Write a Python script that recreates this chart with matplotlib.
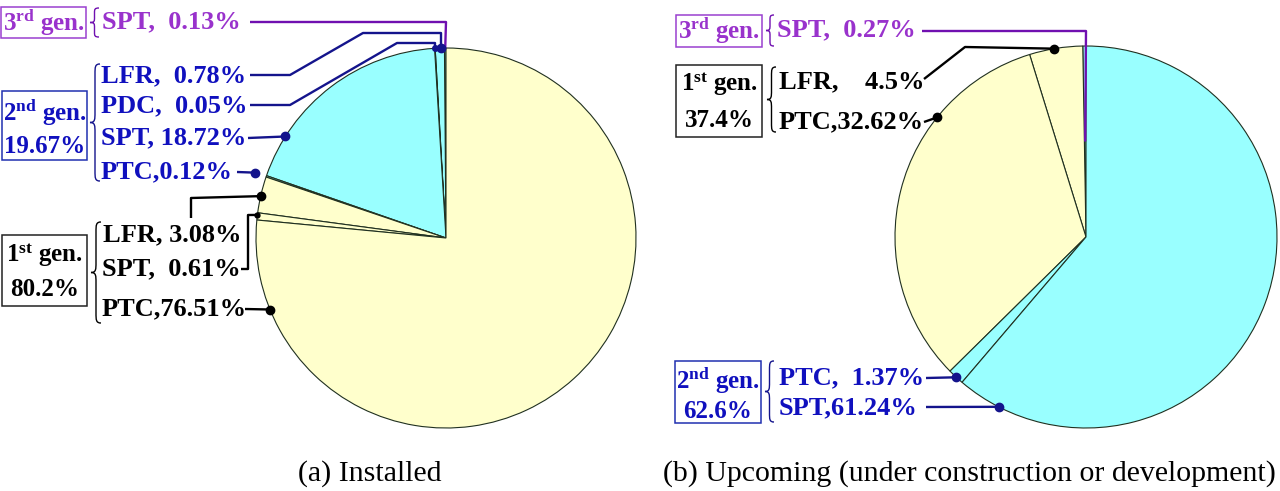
import matplotlib
matplotlib.use('Agg')
import matplotlib.pyplot as plt
import numpy as np
from matplotlib.path import Path
from matplotlib.patches import PathPatch, Rectangle

plt.rcParams['font.family'] = ['Liberation Serif', 'DejaVu Serif']
plt.rcParams['mathtext.fontset'] = 'custom'
plt.rcParams['mathtext.rm'] = 'Liberation Serif'
plt.rcParams['mathtext.bf'] = 'Liberation Serif:bold'
plt.rcParams['mathtext.it'] = 'Liberation Serif:italic'

# ---------------- data ----------------
installed_names = ['SPT', 'LFR', 'PDC', 'SPT', 'PTC', 'LFR', 'SPT', 'PTC']
installed_values = [0.13, 0.78, 0.05, 18.72, 0.12, 3.08, 0.61, 76.51]
installed_gen = [3, 2, 2, 2, 2, 1, 1, 1]
installed_gen_totals = {2: '19.67%', 1: '80.2%'}

upcoming_names = ['SPT', 'LFR', 'PTC', 'PTC', 'SPT']
upcoming_values = [0.27, 4.5, 32.62, 1.37, 61.24]
upcoming_gen = [3, 1, 1, 2, 2]
upcoming_gen_totals = {1: '37.4%', 2: '62.6%'}

gen_titles = {1: r'1$^{\mathbf{st}}$ gen.', 2: r'2$^{\mathbf{nd}}$ gen.', 3: r'3$^{\mathbf{rd}}$ gen.'}
captions = ['(a) Installed', '(b) Upcoming (under construction or development)']

# ---------------- styles ----------------
H = 491
YELLOW = '#FFFFCC'
CYAN = '#99FFFF'
gen_fill = {1: YELLOW, 2: CYAN, 3: CYAN}
gen_text = {1: '#000000', 2: '#1010BE', 3: '#9932CC'}
gen_line = {1: '#000000', 2: '#14148C', 3: '#7010B0'}
gen_box = {1: '#222222', 2: '#2030B0', 3: '#9A40D0'}
FS = 19
BOX_FS = 18
CAP_FS = 21.5


def P(x, y):
    return (x, H - y)


fig = plt.figure(figsize=(12.8, 4.91), dpi=100)
ax = fig.add_axes([0, 0, 1, 1])


def brace(x, y1, y2, w, color):
    ym = (y1 + y2) / 2.0
    xm = x + w * 0.5
    c = min(w, (y2 - y1) / 6.0)
    pts = [(x + w, y1), (xm, y1), (xm, y1 + c * 0.3), (xm, y1 + c),
           (xm, ym - c),
           (xm, ym - c * 0.3), (xm, ym), (x, ym),
           (xm, ym), (xm, ym + c * 0.3), (xm, ym + c),
           (xm, y2 - c),
           (xm, y2 - c * 0.3), (xm, y2), (x + w, y2)]
    codes = [Path.MOVETO, Path.CURVE4, Path.CURVE4, Path.CURVE4,
             Path.LINETO,
             Path.CURVE4, Path.CURVE4, Path.CURVE4,
             Path.CURVE4, Path.CURVE4, Path.CURVE4,
             Path.LINETO,
             Path.CURVE4, Path.CURVE4, Path.CURVE4]
    path = Path([P(*p) for p in pts], codes)
    ax.add_patch(PathPatch(path, facecolor='none', edgecolor=color, lw=1.0, zorder=5))


def group_box(x0, y0, x1, y1, gen, lines):
    ax.add_patch(Rectangle(P(x0, y1), x1 - x0, y1 - y0, facecolor='none',
                           edgecolor=gen_box[gen], lw=1.1, zorder=5))
    for (ty, s) in lines:
        ax.text(*P((x0 + x1) / 2.0, ty), s, ha='center', va='center',
                fontsize=BOX_FS, fontweight='bold', color=gen_text[gen], zorder=6)


def anchor(w, frac, rr=1.0):
    th = np.deg2rad(w.theta1 + frac * (w.theta2 - w.theta1))
    cx, cy = w.center
    return cx + rr * w.r * np.cos(th), cy + rr * w.r * np.sin(th)


def draw_pie(values, gens, center, r):
    wedges, _ = ax.pie(values, colors=[gen_fill[g] for g in gens], startangle=90,
                       counterclock=True, center=P(*center), radius=r,
                       wedgeprops=dict(linewidth=0.8, edgecolor='#203020'))
    return wedges


def label(wedges, idx, names, values, gens, sep, tx, ty, path, frac, rr=1.0,
          dot=6.0):
    g = gens[idx]
    ax.text(*P(tx, ty), f'{names[idx]},{sep}{values[idx]:g}%', ha='left', va='center',
            fontsize=FS, fontweight='bold', color=gen_text[g], zorder=6)
    ex, ey = anchor(wedges[idx], frac, rr)
    xs = [P(*p)[0] for p in path] + [ex]
    ys = [P(*p)[1] for p in path] + [ey]
    ax.plot(xs, ys, color=gen_line[g], lw=1.7, solid_capstyle='butt', zorder=4)
    if dot:
        ax.plot([ex], [ey], 'o', color=gen_line[g], ms=dot, zorder=5)


# ---------------- (a) installed ----------------
wa = draw_pie(installed_values, installed_gen, (446, 238), 190)
A = (installed_names, installed_values, installed_gen)
label(wa, 0, *A, '  ', 102, 22, [(250, 22), (446, 22)], 0.5, dot=0)
label(wa, 1, *A, '  ', 101, 76, [(250, 75), (290, 75), (363, 33), (441, 33)], 0.37)
label(wa, 2, *A, '  ', 101, 106, [(250, 105), (290, 105), (397, 43), (435, 43)], 0.5, dot=4)
label(wa, 3, *A, ' ', 101, 138, [(248, 138)], 0.805)
label(wa, 4, *A, '', 101, 172, [(237, 172)], 0.5, rr=1.06)
label(wa, 5, *A, ' ', 103, 235, [(191, 218), (191, 198)], 0.54)
label(wa, 6, *A, '  ', 102, 269, [(241, 269), (248, 269), (248, 215)], 0.3, dot=3.5)
label(wa, 7, *A, '', 102, 309, [(245, 309)], 0.1)

group_box(1, 7, 86, 38, 3, [(22, gen_titles[3])])
group_box(2, 91, 87, 160, 2, [(112, gen_titles[2]), (146, installed_gen_totals[2])])
group_box(2, 235, 87, 306, 1, [(255, gen_titles[1]), (289, installed_gen_totals[1])])
brace(90, 8, 37, 9, gen_line[3])
brace(90, 64, 181, 10, gen_line[2])
brace(91, 222, 323, 10, gen_line[1])

# ---------------- (b) upcoming ----------------
wb = draw_pie(upcoming_values, upcoming_gen, (1086, 237), 191)
B = (upcoming_names, upcoming_values, upcoming_gen)
label(wb, 0, *B, '  ', 777, 30, [(922, 31), (1086, 31)], 0.5, rr=0.5, dot=0)
label(wb, 1, *B, '    ', 779, 82, [(924, 79), (965, 47)], 0.53)
label(wb, 2, *B, '', 779, 122, [(924, 122)], 0.29)
label(wb, 3, *B, '  ', 779, 378, [(926, 378)], 0.54)
label(wb, 4, *B, '', 779, 408, [(926, 407)], 0.06)

group_box(676, 15, 762, 47, 3, [(30, gen_titles[3])])
group_box(676, 65, 762, 137, 1, [(84, gen_titles[1]), (120, upcoming_gen_totals[1])])
group_box(675, 361, 761, 423, 2, [(380, gen_titles[2]), (411, upcoming_gen_totals[2])])
brace(766, 15, 46, 8, gen_line[3])
brace(767, 67, 132, 9, gen_line[1])
brace(765, 361, 422, 9, gen_line[2])

# ---------------- captions ----------------
ax.text(*P(370, 474), captions[0], ha='center', va='center', fontsize=CAP_FS)
ax.text(*P(969, 474), captions[1], ha='center', va='center', fontsize=CAP_FS)

ax.set_xlim(0, 1280)
ax.set_ylim(0, H)
ax.set_aspect('auto')
ax.axis('off')
fig.savefig('out.png', dpi=100)
